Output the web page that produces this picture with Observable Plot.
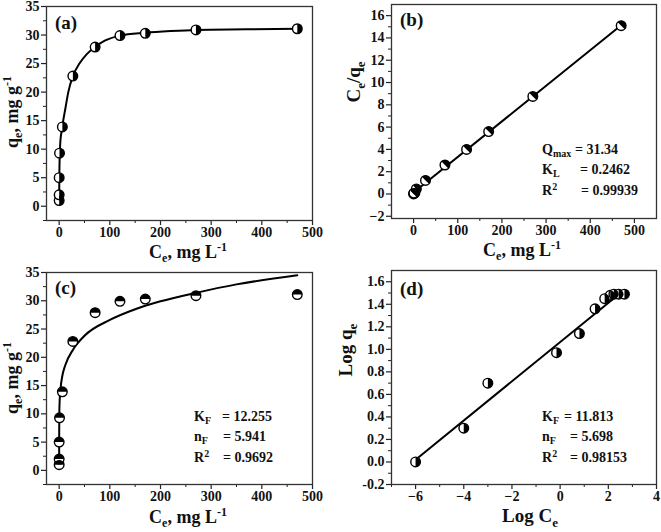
<!DOCTYPE html>
<html>
<head>
<meta charset="utf-8">
<script src="https://cdn.jsdelivr.net/npm/d3@7"></script>
<script src="https://cdn.jsdelivr.net/npm/@observablehq/plot@0.6"></script>
<style>
  body { margin: 0; background: #fff; }
  #fig { position: relative; width: 661px; height: 532px; overflow: hidden; }
  .panel { position: absolute; }
  svg { font-family: "Liberation Serif", "Times New Roman", serif; font-weight: bold; }
</style>
</head>
<body>
<div id="fig"></div>
<script>
// ---------- data ----------
// equilibrium data (panels a, c)
const ce = [0, 0, 0, 0.7, 6.3, 27, 71, 120, 170, 270, 470];
const qe = [1.0, 2.0, 5.0, 9.3, 13.9, 22.8, 27.9, 29.9, 30.3, 30.9, 31.1];
// Langmuir linear plot (panel b)
const ceB = [0, 1, 3, 0.7, 6.3, 27, 71, 120, 170, 270, 470];
const ceOverQe = [0.0, 0.05, 0.1, 0.08, 0.45, 1.22, 2.6, 4.0, 5.6, 8.75, 15.1];
// Freundlich linear plot (panel d)
const logCe = [-6, -4, -3, -0.15, 0.8, 1.45, 1.85, 2.08, 2.23, 2.43, 2.67];
const logQe = [0.0, 0.30, 0.70, 0.97, 1.14, 1.36, 1.45, 1.48, 1.49, 1.49, 1.49];
// fitted curves
const fitAx = [0, 0.3, 1, 2.5, 5, 8, 12, 18, 27, 40, 55, 71, 90, 120, 170, 220, 270, 370, 470];
const fitAy = [0.8, 5, 8.5, 11.5, 13.2, 15, 17, 20, 22.8, 25, 26.7, 27.9, 29, 29.9, 30.4, 30.7, 30.9, 31.0, 31.1];
const fitBx = [0, 470];
const fitBy = [0.13, 15.13];
const fitCx = [0, 0.0001, 0.01, 0.3, 1, 3, 6, 12, 27, 50, 100, 150, 200, 270, 350, 470];
const fitCy = [1.2, 2.6, 5.5, 10.3, 12.3, 14.7, 16.6, 18.6, 21.3, 23.8, 26.6, 28.5, 29.9, 31.4, 32.9, 34.5];
const fitDx = [-6, 2.62];
const fitDy = [0.02, 1.52];
// tick values
const ticksCe = [0, 100, 200, 300, 400, 500];
const minorCe = [50, 150, 250, 350, 450];
const ticksQ = [0, 5, 10, 15, 20, 25, 30, 35];
const minorQ = [-2.5, 2.5, 7.5, 12.5, 17.5, 22.5, 27.5, 32.5];
const ticksB = [-2, 0, 2, 4, 6, 8, 10, 12, 14, 16];
const minorB = [-1, 1, 3, 5, 7, 9, 11, 13, 15];
const ticksLogC = [-6, -4, -2, 0, 2, 4];
const minorLogC = [-7, -5, -3, -1, 1, 3];
const ticksLogQ = [-0.2, 0, 0.2, 0.4, 0.6, 0.8, 1.0, 1.2, 1.4, 1.6];
const minorLogQ = [-0.1, 0.1, 0.3, 0.5, 0.7, 0.9, 1.1, 1.3, 1.5];

// ---------- helpers ----------
function halfSymbol(a0, a1) {
  return { draw(ctx, size) {
    const r = Math.sqrt(size / Math.PI);
    ctx.moveTo(0, 0);
    ctx.arc(0, 0, r, a0, a1);
    ctx.closePath();
  }};
}
const rightHalf = halfSymbol(-Math.PI / 2, Math.PI / 2);
const topHalf = halfSymbol(Math.PI, 2 * Math.PI);
const diagHalf = halfSymbol(-3 * Math.PI / 4, Math.PI / 4);

function rich(svg, x, y, parts, o = {}) {
  const size = o.size || 18, small = o.small || Math.round(size * 0.68);
  const t = d3.select(svg).append("text")
    .attr("x", x).attr("y", y)
    .attr("font-size", size).attr("font-weight", "bold")
    .attr("font-family", '"Liberation Serif", "Times New Roman", serif')
    .attr("text-anchor", o.anchor || "start")
    .attr("dominant-baseline", "middle")
    .attr("fill", "#111");
  if (o.rotate) t.attr("transform", `rotate(${o.rotate},${x},${y})`);
  let shift = 0;
  for (const [s, mode] of parts) {
    const target = mode === "sub" ? size * 0.3 : mode === "sup" ? -size * 0.32 : 0;
    const ts = t.append("tspan").text(s).attr("dy", target - shift);
    if (mode) ts.attr("font-size", small);
    shift = target;
  }
}

function panel(opts) {
  const { left, top, width, height, margin, xdom, ydom, xt, xm, yt, ym, xfmt, yfmt, dots, sym, fit, curve } = opts;
  const pts = dots.x.map((x, i) => ({ x, y: dots.y[i] }));
  const line = fit.x.map((x, i) => ({ x, y: fit.y[i] }));
  const plot = Plot.plot({
    width, height,
    marginLeft: margin[3], marginRight: margin[1], marginTop: margin[0], marginBottom: margin[2],
    style: { fontFamily: '"Liberation Serif", "Times New Roman", serif', fontWeight: "bold", fontSize: "14px", color: "#111", background: "white" },
    x: { domain: xdom, axis: null, label: null },
    y: { domain: ydom, axis: null, label: null },
    marks: [
      Plot.axisX(xt, { label: null, tickSize: 5, tickPadding: 2, tickFormat: xfmt, fontSize: 14, fontWeight: "bold", stroke: "#222", strokeWidth: 1.2 }),
      Plot.axisX(xm, { label: null, tickSize: 3, tickFormat: () => "", stroke: "#222", strokeWidth: 1 }),
      Plot.axisY(yt, { label: null, tickSize: 5, tickPadding: 2, tickFormat: yfmt, fontSize: 14, fontWeight: "bold", stroke: "#222", strokeWidth: 1.2 }),
      Plot.axisY(ym, { label: null, tickSize: 3, tickFormat: () => "", stroke: "#222", strokeWidth: 1 }),
      Plot.line(line, { x: "x", y: "y", stroke: "#000", strokeWidth: 2, curve: curve || "linear" }),
      Plot.dot(pts, { x: "x", y: "y", r: 4.8, fill: "white", stroke: "#000", strokeWidth: 1.4 }),
      Plot.dot(pts, { x: "x", y: "y", r: 4.8, symbol: sym, fill: "#000", stroke: "none" }),
      Plot.frame({ stroke: "#333", strokeWidth: 1.3 })
    ]
  });
  const div = document.createElement("div");
  div.className = "panel";
  div.style.left = left + "px";
  div.style.top = top + "px";
  div.appendChild(plot);
  document.getElementById("fig").appendChild(div);
  return plot;
}

const fmtInt = d3.format("d");
const fmt1 = d => d.toFixed(1);

// ---------- (a) ----------
const pa = panel({ left: 0, top: 0, width: 330, height: 266, margin: [6, 18, 46, 46],
  xdom: [-25, 500], ydom: [-2.5, 35], xt: ticksCe, xm: minorCe, yt: ticksQ, ym: minorQ,
  xfmt: fmtInt, yfmt: fmtInt, dots: { x: ce, y: qe }, sym: rightHalf,
  fit: { x: fitAx, y: fitAy }, curve: "monotone-x" });
rich(pa, 55, 25, [["(a)"]], { size: 19 });
rich(pa, 14, 112, [["q"], ["e", "sub"], [", mg g"], ["-1", "sup"]], { anchor: "middle", rotate: -90 });
rich(pa, 188, 254, [["C"], ["e", "sub"], [", mg L"], ["-1", "sup"]], { anchor: "middle" });

// ---------- (b) ----------
const pb = panel({ left: 330, top: 0, width: 331, height: 266, margin: [4, 5, 48, 61],
  xdom: [-50, 550], ydom: [-2.2, 17], xt: ticksCe, xm: minorCe, yt: ticksB, ym: minorB,
  xfmt: fmtInt, yfmt: fmtInt, dots: { x: ceB, y: ceOverQe }, sym: diagHalf,
  fit: { x: fitBx, y: fitBy } });
rich(pb, 70, 22, [["(b)"]], { size: 19 });
rich(pb, 26, 82, [["C"], ["e", "sub"], ["/q"], ["e", "sub"]], { anchor: "middle", rotate: -90, size: 19 });
rich(pb, 192, 252, [["C"], ["e", "sub"], [", mg L"], ["-1", "sup"]], { anchor: "middle" });
rich(pb, 212, 151, [["Q"], ["max", "sub"]], { size: 14 });
rich(pb, 245, 151, [["= 31.34"]], { size: 14 });
rich(pb, 212, 171, [["K"], ["L", "sub"]], { size: 14 });
rich(pb, 250, 171, [["= 0.2462"]], { size: 14 });
rich(pb, 212, 192, [["R"], ["2", "sup"]], { size: 14 });
rich(pb, 251, 192, [["= 0.99939"]], { size: 14 });

// ---------- (c) ----------
const pc = panel({ left: 0, top: 266, width: 330, height: 266, margin: [6, 18, 48, 46],
  xdom: [-25, 500], ydom: [-2.5, 35], xt: ticksCe, xm: minorCe, yt: ticksQ, ym: minorQ,
  xfmt: fmtInt, yfmt: fmtInt, dots: { x: ce, y: qe }, sym: topHalf,
  fit: { x: fitCx, y: fitCy }, curve: "monotone-x" });
rich(pc, 55, 24, [["(c)"]], { size: 19 });
rich(pc, 14, 112, [["q"], ["e", "sub"], [", mg g"], ["-1", "sup"]], { anchor: "middle", rotate: -90 });
rich(pc, 188, 253, [["C"], ["e", "sub"], [", mg L"], ["-1", "sup"]], { anchor: "middle" });
rich(pc, 194, 152, [["K"], ["F", "sub"]], { size: 14 });
rich(pc, 222, 152, [["= 12.255"]], { size: 14 });
rich(pc, 194, 172, [["n"], ["F", "sub"]], { size: 14 });
rich(pc, 223, 172, [["= 5.941"]], { size: 14 });
rich(pc, 194, 193, [["R"], ["2", "sup"]], { size: 14 });
rich(pc, 223, 193, [["= 0.9692"]], { size: 14 });

// ---------- (d) ----------
const pd = panel({ left: 330, top: 266, width: 331, height: 266, margin: [4, 5, 48, 61],
  xdom: [-7, 4], ydom: [-0.2, 1.7], xt: ticksLogC, xm: minorLogC, yt: ticksLogQ, ym: minorLogQ,
  xfmt: fmtInt, yfmt: fmt1, dots: { x: logCe, y: logQe }, sym: rightHalf,
  fit: { x: fitDx, y: fitDy } });
rich(pd, 70, 25, [["(d)"]], { size: 19 });
rich(pd, 18, 84, [["Log q"], ["e", "sub"]], { anchor: "middle", rotate: -90, size: 19 });
rich(pd, 200, 252, [["Log C"], ["e", "sub"]], { anchor: "middle", size: 19 });
rich(pd, 212, 152, [["K"], ["F", "sub"]], { size: 14 });
rich(pd, 234, 152, [["= 11.813"]], { size: 14 });
rich(pd, 212, 172, [["n"], ["F", "sub"]], { size: 14 });
rich(pd, 240, 172, [["= 5.698"]], { size: 14 });
rich(pd, 212, 193, [["R"], ["2", "sup"]], { size: 14 });
rich(pd, 240, 193, [["= 0.98153"]], { size: 14 });
</script>
</body>
</html>
